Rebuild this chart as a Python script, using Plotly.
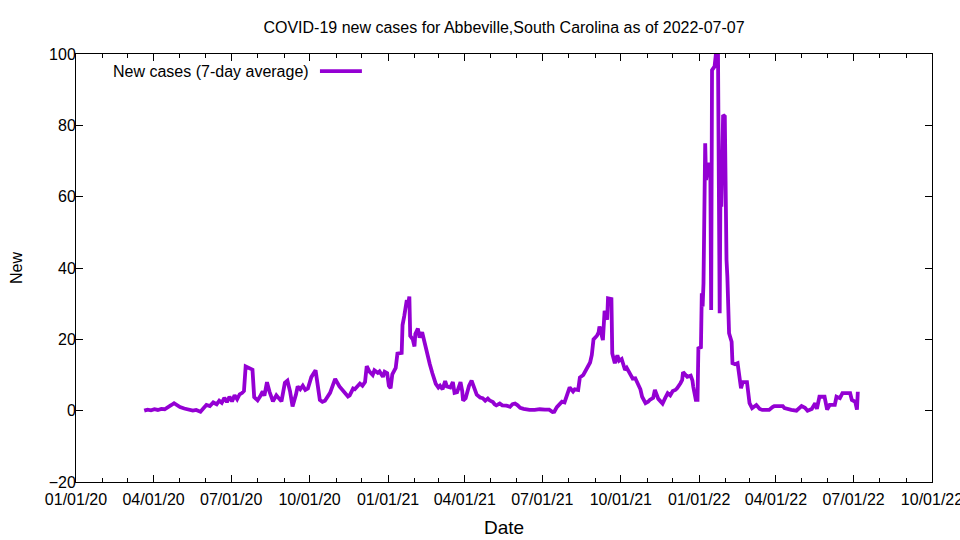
import plotly.graph_objects as go

# Dates (x) and 7-day average new cases (y)
dates = [
    "2020-03-21", "2020-03-25", "2020-03-29", "2020-04-02", "2020-04-06", "2020-04-10", "2020-04-14",
    "2020-04-18", "2020-04-22", "2020-04-25", "2020-04-28", "2020-05-02", "2020-05-07", "2020-05-12",
    "2020-05-17", "2020-05-21", "2020-05-26", "2020-05-30", "2020-06-02", "2020-06-06", "2020-06-10",
    "2020-06-14", "2020-06-17", "2020-06-20", "2020-06-23", "2020-06-26", "2020-06-29", "2020-07-02",
    "2020-07-05", "2020-07-08", "2020-07-11", "2020-07-14", "2020-07-16", "2020-07-18", "2020-07-22",
    "2020-07-26", "2020-07-28", "2020-08-01", "2020-08-04", "2020-08-07", "2020-08-09", "2020-08-12",
    "2020-08-15", "2020-08-19", "2020-08-23", "2020-08-27", "2020-08-29", "2020-09-02", "2020-09-05",
    "2020-09-08", "2020-09-10", "2020-09-11", "2020-09-15", "2020-09-17", "2020-09-20", "2020-09-23",
    "2020-09-26", "2020-09-29", "2020-10-03", "2020-10-08", "2020-10-10", "2020-10-13", "2020-10-16",
    "2020-10-19", "2020-10-25", "2020-10-31", "2020-11-05", "2020-11-11", "2020-11-15", "2020-11-17",
    "2020-11-21", "2020-11-23", "2020-11-29", "2020-12-02", "2020-12-05", "2020-12-07", "2020-12-10",
    "2020-12-14", "2020-12-16", "2020-12-20", "2020-12-22", "2020-12-26", "2020-12-28", "2020-12-31",
    "2021-01-02", "2021-01-04", "2021-01-06", "2021-01-10", "2021-01-12", "2021-01-17", "2021-01-18",
    "2021-01-20", "2021-01-23", "2021-01-24", "2021-01-26", "2021-01-27", "2021-01-30", "2021-02-01",
    "2021-02-02", "2021-02-05", "2021-02-07", "2021-02-10", "2021-02-12", "2021-02-13", "2021-02-17",
    "2021-02-19", "2021-02-22", "2021-02-24", "2021-02-26", "2021-03-01", "2021-03-03", "2021-03-06",
    "2021-03-09", "2021-03-11", "2021-03-15", "2021-03-18", "2021-03-20", "2021-03-23", "2021-03-27",
    "2021-03-29", "2021-03-30", "2021-04-02", "2021-04-06", "2021-04-09", "2021-04-12", "2021-04-15",
    "2021-04-19", "2021-04-22", "2021-04-25", "2021-04-28", "2021-04-30", "2021-05-04", "2021-05-06",
    "2021-05-08", "2021-05-12", "2021-05-15", "2021-05-20", "2021-05-24", "2021-05-27", "2021-05-30",
    "2021-06-02", "2021-06-05", "2021-06-09", "2021-06-13", "2021-06-16", "2021-06-22", "2021-06-28",
    "2021-07-04", "2021-07-09", "2021-07-13", "2021-07-15", "2021-07-18", "2021-07-21", "2021-07-24",
    "2021-07-27", "2021-07-30", "2021-08-02", "2021-08-06", "2021-08-08", "2021-08-12", "2021-08-14",
    "2021-08-18", "2021-08-20", "2021-08-24", "2021-08-26", "2021-08-28", "2021-08-30", "2021-09-03",
    "2021-09-05", "2021-09-06", "2021-09-09", "2021-09-10", "2021-09-12", "2021-09-15", "2021-09-16",
    "2021-09-20", "2021-09-21", "2021-09-24", "2021-09-27", "2021-09-29", "2021-10-02", "2021-10-06",
    "2021-10-08", "2021-10-12", "2021-10-15", "2021-10-18", "2021-10-21", "2021-10-24", "2021-10-26",
    "2021-10-30", "2021-11-02", "2021-11-04", "2021-11-08", "2021-11-10", "2021-11-14", "2021-11-19",
    "2021-11-22", "2021-11-25", "2021-11-28", "2021-12-01", "2021-12-04", "2021-12-06", "2021-12-10",
    "2021-12-12", "2021-12-13", "2021-12-16", "2021-12-18", "2021-12-22", "2021-12-24", "2021-12-25",
    "2021-12-28", "2021-12-30", "2021-12-31", "2022-01-03", "2022-01-04", "2022-01-05", "2022-01-06",
    "2022-01-08", "2022-01-09", "2022-01-12", "2022-01-14", "2022-01-15", "2022-01-16", "2022-01-19",
    "2022-01-21", "2022-01-23", "2022-01-25", "2022-01-26", "2022-01-27", "2022-01-29", "2022-01-31",
    "2022-02-02", "2022-02-03", "2022-02-05", "2022-02-08", "2022-02-09", "2022-02-12", "2022-02-15",
    "2022-02-17", "2022-02-19", "2022-02-21", "2022-02-26", "2022-03-01", "2022-03-04", "2022-03-09",
    "2022-03-13", "2022-03-16", "2022-03-24", "2022-03-28", "2022-03-30", "2022-04-09", "2022-04-11",
    "2022-04-19", "2022-04-25", "2022-05-01", "2022-05-05", "2022-05-08", "2022-05-13", "2022-05-17",
    "2022-05-19", "2022-05-22", "2022-05-28", "2022-05-31", "2022-06-03", "2022-06-09", "2022-06-11",
    "2022-06-15", "2022-06-18", "2022-06-27", "2022-06-29", "2022-07-03", "2022-07-05", "2022-07-06",
]

new_cases_avg = [
    0.0, 0.3, 0.1, 0.4, 0.2, 0.5, 0.4,
    0.9, 1.6, 2.1, 1.5, 1.0, 0.6, 0.3,
    0.0, 0.2, -0.3, 0.8, 1.6, 1.3, 2.3,
    1.8, 2.8, 2.2, 3.6, 2.4, 3.9, 2.6,
    4.3, 3.2, 4.6, 5.0, 5.5, 12.4, 11.8,
    11.5, 3.8, 2.9, 4.0, 5.4, 4.2, 8.0,
    5.3, 2.6, 4.3, 3.0, 2.6, 7.8, 8.4,
    5.5, 2.4, 1.2, 4.5, 6.8, 6.0, 7.0,
    5.8, 6.2, 9.4, 11.3, 8.0, 3.0, 2.5,
    2.8, 5.0, 8.9, 6.8, 5.0, 4.0, 4.3,
    6.2, 6.0, 7.6, 7.0, 8.0, 12.5, 11.0,
    10.0, 11.3, 10.6, 11.0, 9.5, 10.9, 10.5,
    7.0, 6.3, 10.2, 12.0, 16.0, 16.2, 24.0,
    26.5, 31.0, 29.0, 32.0, 21.0, 20.0, 18.0,
    21.5, 23.0, 20.5, 22.0, 20.0, 18.0, 15.0,
    13.0, 10.5, 9.0, 7.5, 6.5, 7.0, 6.0,
    8.3, 6.8, 6.5, 8.0, 5.0, 5.2, 8.0,
    5.5, 2.8, 3.5, 7.0, 8.4, 6.5, 4.5,
    3.7, 3.5, 2.8, 3.4, 2.9, 2.4, 1.8,
    1.5, 2.0, 1.5, 1.4, 1.1, 1.8, 2.0,
    1.5, 0.8, 0.5, 0.3, 0.2, 0.2, 0.4,
    0.3, 0.3, -0.4, -0.3, 1.0, 1.8, 2.5,
    2.3, 4.8, 6.5, 5.4, 6.0, 5.8, 9.3,
    10.0, 10.8, 12.7, 13.5, 15.6, 20.0, 21.0,
    22.0, 23.6, 21.0, 19.8, 28.0, 25.5, 31.5,
    31.3, 16.0, 13.3, 15.5, 14.0, 14.5, 11.4,
    12.0, 10.0, 9.0, 9.1, 7.7, 6.0, 3.9,
    2.1, 2.5, 3.0, 3.6, 5.8, 3.3, 2.0,
    3.5, 4.9, 4.3, 5.5, 5.8, 6.3, 7.7,
    8.6, 10.8, 9.8, 9.5, 9.8, 8.5, 6.7,
    3.0, 3.0, 17.5, 17.8, 32.9, 29.2, 35.7,
    75.0, 64.7, 69.4, 68.5, 28.2, 95.5, 96.5,
    101.0, 100.5, 27.3, 66.6, 57.2, 82.9, 82.5,
    42.3, 37.6, 21.7, 19.3, 13.3, 13.0, 13.3,
    10.5, 6.3, 8.0, 8.0, 2.1, 0.7, 1.6,
    0.5, 0.2, 0.2, 1.0, 1.3, 1.3, 0.7,
    0.2, 0.0, 1.3, 0.8, 0.0, 0.5, 2.1,
    0.5, 3.9, 3.9, 0.3, 1.6, 1.6, 3.9,
    3.5, 4.9, 4.9, 3.0, 2.5, 0.3, 5.3,
]

x_tick_vals = ["2020-01-01", "2020-04-01", "2020-07-01", "2020-10-01", "2021-01-01", "2021-04-01",
               "2021-07-01", "2021-10-01", "2022-01-01", "2022-04-01", "2022-07-01", "2022-10-01"]
x_tick_text = ["01/01/20", "04/01/20", "07/01/20", "10/01/20", "01/01/21", "04/01/21",
               "07/01/21", "10/01/21", "01/01/22", "04/01/22", "07/01/22", "10/01/22"]
y_tick_vals = [-20, 0, 20, 40, 60, 80, 100]

series_name = "New cases (7-day average)"
title_text = "COVID-19 new cases for Abbeville,South Carolina as of 2022-07-07"
line_color = "#9400D3"
FONT = "Liberation Sans, Arial, sans-serif"

fig = go.Figure()
fig.add_trace(go.Scatter(
    x=dates, y=new_cases_avg, mode="lines", name=series_name,
    line=dict(color=line_color, width=3.8), showlegend=False,
))

# gnuplot-style key: text, then line sample on the right
fig.add_annotation(
    xref="paper", yref="paper", x=0.2745, y=0.960, text=series_name,
    showarrow=False, xanchor="right", yanchor="middle",
    font=dict(family=FONT, size=16, color="black"),
)
fig.add_shape(type="line", xref="paper", yref="paper",
              x0=0.285, x1=0.334, y0=0.960, y1=0.960,
              line=dict(color=line_color, width=3.8))

fig.update_layout(
    width=960, height=540,
    margin=dict(l=76, r=28, t=54, b=58),
    paper_bgcolor="white", plot_bgcolor="white",
    font=dict(family=FONT, size=16, color="black"),
    title=dict(text=title_text, x=0.5, xref="paper", y=1 - 27 / 540, yref="container",
               xanchor="center", yanchor="middle", font=dict(family=FONT, size=16)),
    xaxis=dict(
        range=["2020-01-01", "2022-10-01 00:30"], type="date",
        tickvals=x_tick_vals, ticktext=x_tick_text,
        ticks="inside", ticklen=7, tickcolor="black", tickwidth=1,
        minor=dict(dtick="M1", tick0="2020-01-01", ticks="inside", ticklen=4,
                   tickcolor="black", tickwidth=1, showgrid=False),
        showline=True, linecolor="black", linewidth=1, mirror="allticks",
        showgrid=False, zeroline=False,
        ticklabelstandoff=3, ticklabeloverflow="allow",
        title=dict(text="Date", standoff=13),
        tickfont=dict(size=16), automargin=False,
    ),
    yaxis=dict(
        range=[-20, 100], tickvals=y_tick_vals,
        ticks="inside", ticklen=7, tickcolor="black", tickwidth=1,
        showline=True, linecolor="black", linewidth=1, mirror="allticks",
        showgrid=False, zeroline=False,
        ticklabelstandoff=-4,
        title=dict(text="New", standoff=22, font=dict(size=16)),
        tickfont=dict(size=16), automargin=False,
    ),
)

fig.write_html("out.html", config={"displayModeBar": False},
               post_script="document.body.style.margin='0px';")
